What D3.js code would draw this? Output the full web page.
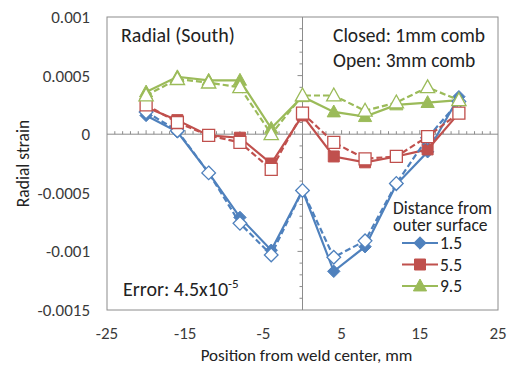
<!DOCTYPE html>
<html>
<head>
<meta charset="utf-8">
<script src="https://cdn.jsdelivr.net/npm/d3@7"></script>
<style>
  body { margin: 0; background: #fff; }
  svg text { font-family: Carlito, Lato, "Open Sans", sans-serif; fill: #222; }
</style>
</head>
<body>
<div id="chart"></div>
<script>
// positions along the weld (mm)
const positions = [-20, -16, -12, -8, -4, 0, 4, 8, 12, 16, 20];

// closed = 1mm comb (solid), open = 3mm comb (dashed)
const closed15 = [0.00016, 0.00002, -0.00033, -0.00071, -0.00099, -0.00048, -0.00117, -0.00096, -0.00043, -0.00015, 0.00032];
const open15 = [0.00019, 0.00003, -0.00033, -0.00076, -0.00103, -0.00048, -0.00105, -0.00091, -0.00042, -0.00003, 0.00028];
const closed55 = [0.00023, 0.00012, -0.00001, -0.00003, -0.00025, 0.00016, -0.00019, -0.00024, -0.00019, -0.00013, 0.00018];
const open55 = [0.00025, 0.00010, -0.00001, -0.00007, -0.00030, 0.00018, -0.00007, -0.00021, -0.00019, -0.00002, 0.00018];
const closed95 = [0.00036, 0.00049, 0.00046, 0.00046, 0.00005, 0.00032, 0.00019, 0.00015, 0.00025, 0.00027, 0.00029];
const open95 = [0.00033, 0.00047, 0.00044, 0.00040, 0.00000, 0.00033, 0.00033, 0.00020, 0.00027, 0.00040, 0.00029];

const legendLabels = ["1.5", "5.5", "9.5"];
const xTicks = [-25, -15, -5, 5, 15, 25];
const yTicks = [0.001, 0.0005, 0, -0.0005, -0.001, -0.0015];
const yTickLabels = ["0.001", "0.0005", "0", "-0.0005", "-0.001", "-0.0015"];

const colors = ["#4f81bd", "#c0504d", "#9bbb59"];
const shapes = ["diamond", "square", "triangle"];

const width = 511, height = 367;
const margin = {top: 17, right: 13, bottom: 57, left: 107};

const svg = d3.select("#chart").append("svg")
    .attr("width", width)
    .attr("height", height);

const x = d3.scaleLinear().domain([-25, 25]).range([margin.left, width - margin.right]);
const y = d3.scaleLinear().domain([-0.0015, 0.001]).range([height - margin.bottom, margin.top]);

// plot border
svg.append("rect")
    .attr("x", x(-25)).attr("y", y(0.001))
    .attr("width", x(25) - x(-25)).attr("height", y(-0.0015) - y(0.001))
    .attr("fill", "none").attr("stroke", "#8c8c8c").attr("stroke-width", 1);

// axis lines crossing at zero
const axisG = svg.append("g").attr("stroke", "#8c8c8c").attr("stroke-width", 1);
axisG.append("line")
    .attr("x1", x(-25)).attr("x2", x(25))
    .attr("y1", y(0)).attr("y2", y(0));
axisG.append("line")
    .attr("x1", x(0)).attr("x2", x(0))
    .attr("y1", y(0.001)).attr("y2", y(-0.0015));

// minor ticks on the x axis (every 1 mm), pointing up
d3.range(-24, 25, 1).forEach(v => {
    if (v === 0) return;
    const len = (v % 5 === 0) ? 4 : 3;
    axisG.append("line")
        .attr("x1", x(v)).attr("x2", x(v))
        .attr("y1", y(0)).attr("y2", y(0) - len);
});

// ticks on the y axis (every 0.0001), pointing left
d3.range(-15, 11, 1).forEach(i => {
    const v = i * 0.0001;
    if (i === 0 || i === 10 || i === -15) return;
    const len = (i % 5 === 0) ? 5 : 3;
    axisG.append("line")
        .attr("x1", x(0) - len).attr("x2", x(0))
        .attr("y1", y(v)).attr("y2", y(v));
});

// y tick labels
svg.append("g").selectAll("text")
    .data(yTicks)
    .enter().append("text")
    .attr("x", margin.left - 17)
    .attr("y", d => y(d))
    .attr("dy", "0.35em")
    .attr("text-anchor", "end")
    .attr("font-size", "17px")
    .style("fill", "#3a3a3a")
    .text((d, i) => yTickLabels[i]);

// x tick labels
svg.append("g").selectAll("text")
    .data(xTicks)
    .enter().append("text")
    .attr("x", d => x(d))
    .attr("y", y(-0.0015) + 29)
    .attr("text-anchor", "middle")
    .attr("font-size", "17px")
    .style("fill", "#3a3a3a")
    .text(d => d);

// axis titles
svg.append("text")
    .attr("x", x(0) + 4)
    .attr("y", 361)
    .attr("text-anchor", "middle")
    .attr("font-size", "17px")
    .text("Position from weld center, mm");

svg.append("text")
    .attr("transform", `translate(29, ${(y(0.001) + y(-0.0015)) / 2}) rotate(-90)`)
    .attr("text-anchor", "middle")
    .attr("font-size", "17.5px")
    .text("Radial strain");

// marker path helper
function markerPath(shape, size) {
    if (shape === "diamond") {
        const s = size * 0.62;
        return `M0,${-s}L${s},0L0,${s}L${-s},0Z`;
    }
    if (shape === "square") {
        const s = size * 0.5;
        return `M${-s},${-s}H${s}V${s}H${-s}Z`;
    }
    const s = size * 0.55;
    return `M0,${-s * 1.05}L${s},${s * 0.75}L${-s},${s * 0.75}Z`;
}

const markerSize = [10, 11, 12];

const line = d3.line()
    .x(d => x(d[0]))
    .y(d => y(d[1]));

const series = [
    {values: closed15, idx: 0, open: false},
    {values: closed55, idx: 1, open: false},
    {values: closed95, idx: 2, open: false},
    {values: open15, idx: 0, open: true},
    {values: open55, idx: 1, open: true},
    {values: open95, idx: 2, open: true}
];

series.forEach(s => {
    const pts = positions.map((p, i) => [p, s.values[i]]);
    const g = svg.append("g");
    g.append("path")
        .datum(pts)
        .attr("d", line)
        .attr("fill", "none")
        .attr("stroke", colors[s.idx])
        .attr("stroke-width", 2.2)
        .attr("stroke-dasharray", s.open ? "6,3" : null);

    g.selectAll("path.mark")
        .data(pts)
        .enter().append("path")
        .attr("class", "mark")
        .attr("transform", d => `translate(${x(d[0])}, ${y(d[1])})`)
        .attr("d", markerPath(shapes[s.idx], markerSize[s.idx] + (s.open ? 1 : 0)))
        .attr("fill", s.open ? "#fff" : colors[s.idx])
        .attr("stroke", colors[s.idx])
        .attr("stroke-width", s.open ? 1.3 : 1);
});

// annotations
svg.append("text")
    .attr("x", 121).attr("y", 42)
    .attr("font-size", "20px")
    .text("Radial (South)");

svg.append("text")
    .attr("x", 333).attr("y", 42)
    .attr("font-size", "19.5px")
    .text("Closed: 1mm comb");

svg.append("text")
    .attr("x", 333).attr("y", 67)
    .attr("font-size", "19.5px")
    .text("Open: 3mm comb");

const err = svg.append("text")
    .attr("x", 123).attr("y", 296)
    .attr("font-size", "20px");
err.append("tspan").text("Error: 4.5x10");
err.append("tspan").attr("dy", -8).attr("font-size", "13px").text("-5");

// legend
const legend = svg.append("g");
legend.append("text")
    .attr("x", 393).attr("y", 214)
    .attr("font-size", "17.5px")
    .text("Distance from");
legend.append("text")
    .attr("x", 393).attr("y", 231)
    .attr("font-size", "17.5px")
    .text("outer surface");

legendLabels.forEach((lab, i) => {
    const ly = 243 + i * 21.5;
    legend.append("line")
        .attr("x1", 402).attr("x2", 438)
        .attr("y1", ly).attr("y2", ly)
        .attr("stroke", colors[i]).attr("stroke-width", 2);
    legend.append("path")
        .attr("transform", `translate(420, ${ly})`)
        .attr("d", markerPath(shapes[i], markerSize[i]))
        .attr("fill", colors[i])
        .attr("stroke", colors[i]);
    legend.append("text")
        .attr("x", 440).attr("y", ly)
        .attr("dy", "0.35em")
        .attr("font-size", "17.5px")
        .text(lab);
});
</script>
</body>
</html>
